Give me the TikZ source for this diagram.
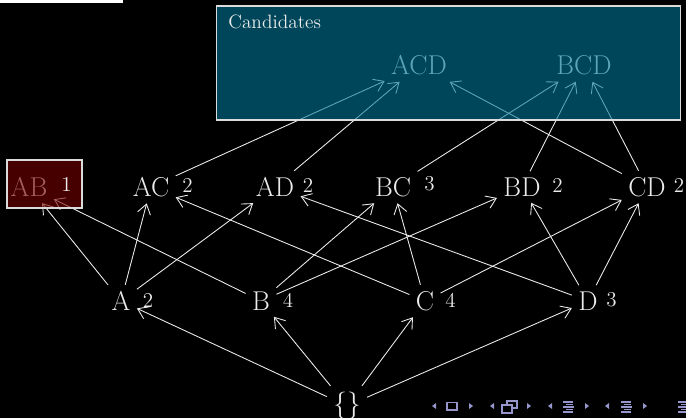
\documentclass[tikz,border=0pt]{standalone}
\usepackage{tikz}
\usetikzlibrary{arrows.meta}

\definecolor{fgcol}{RGB}{235,235,235}
\definecolor{candfill}{RGB}{0,117,150}
\definecolor{abfill}{RGB}{117,0,0}
\definecolor{navcol}{RGB}{150,150,205}

\tikzset{
  item/.style={text=fgcol, inner sep=3.5pt, font=\fontsize{15.5}{18}\selectfont},
  cnt/.style={text=fgcol, inner sep=1pt, font=\fontsize{12}{14}\selectfont},
  up/.style={draw=fgcol, line width=0.5pt, -{Straight Barb[length=5.5pt,width=7.5pt]}},
  overlay box/.style={draw=fgcol!85!gray, draw opacity=1, fill opacity=0.6, inner sep=0pt, line width=0.6pt},
}

\begin{document}
\begin{tikzpicture}[x=0.02cm, y=-0.02cm]
            % Background
            \fill[black] (0,0) rectangle (686,418);
            \useasboundingbox (0,0) rectangle (686,418);
            \fill[white] (0,0) rectangle (123,3);

            % Nodes
            \node[item] (e) at (347,406) {\{\}};
            \node[item] (A) at (121,301) {A};
            \node[item] (B) at (261,301) {B};
            \node[item] (C) at (425,301) {C};
            \node[item] (D) at (588,301) {D};
            \node[item] (AB) at (29,187) {AB};
            \node[item] (AC) at (151,187) {AC};
            \node[item] (AD) at (275,187) {AD};
            \node[item] (BC) at (393,187) {BC};
            \node[item] (BD) at (522,187) {BD};
            \node[item] (CD) at (647,187) {CD};
            \node[item] (ACD) at (419,65.5) {ACD};
            \node[item] (BCD) at (584,65.5) {BCD};

            % Counts
            \node[cnt] (nA) at (148,300) {2};
            \node[cnt] (nB) at (288,300) {4};
            \node[cnt] (nC) at (450.5,300) {4};
            \node[cnt] (nD) at (611.5,300) {3};
            \node[cnt] (nAC) at (187.5,185) {2};
            \node[cnt] (nAD) at (308,185) {2};
            \node[cnt] (nBC) at (429.5,184) {3};
            \node[cnt] (nBD) at (557.5,185) {2};
            \node[cnt] (nCD) at (679,185) {2};

            % Edges
            \draw[up] (e) -- (A);
            \draw[up] (e) -- (B);
            \draw[up] (e) -- (C);
            \draw[up] (e) -- (D);
            \draw[up] (A) -- (AB);
            \draw[up] (A) -- (AC);
            \draw[up] (A) -- (AD);
            \draw[up] (B) -- (AB);
            \draw[up] (B) -- (BC);
            \draw[up] (B) -- (BD);
            \draw[up] (C) -- (AC);
            \draw[up] (C) -- (BC);
            \draw[up] (C) -- (CD);
            \draw[up] (D) -- (AD);
            \draw[up] (D) -- (BD);
            \draw[up] (D) -- (CD);
            \draw[up] (AC) -- (ACD);
            \draw[up] (AD) -- (ACD);
            \draw[up] (CD) -- (ACD);
            \draw[up] (BC) -- (BCD);
            \draw[up] (BD) -- (BCD);
            \draw[up] (CD) -- (BCD);

            % Boxes
            \node[overlay box, fill=candfill, minimum width=9.3cm, minimum height=2.28cm] (candbox) at (448.5,63) {};
            \node[overlay box, fill=abfill, minimum width=1.5cm, minimum height=0.96cm] (abbox) at (44.5,184) {};
            \node[cnt] (nAB) at (66.5,184) {1};
            \node[text=fgcol, anchor=base west, inner sep=0pt, font=\fontsize{11}{13}\selectfont] (candlabel) at (228,29) {Candidates};

            % Navigation symbols
            \foreach \x in {434,492,550,607}
              \fill[navcol] (\x+2,403) -- (\x-2,406) -- (\x+2,409) -- cycle;
            \foreach \x in {471,529,587,645}
              \fill[navcol] (\x-2,403) -- (\x+2,406) -- (\x-2,409) -- cycle;
            \draw[navcol, line width=0.6pt] (447,402.5) rectangle (457,410);
            \draw[navcol, line width=0.6pt] (507,401) rectangle (517,408);
            \draw[navcol, line width=0.6pt, fill=black] (502,405) rectangle (512,413);
            \foreach \x in {563,621,678}
              \foreach \y/\a/\b in {402/0/10, 404.5/3/10, 407/0/11, 409.5/3/10, 412/0/10}
                \draw[navcol, line width=0.7pt] (\x+\a,\y) -- (\x+\b,\y);
        \end{tikzpicture}
\end{document}
